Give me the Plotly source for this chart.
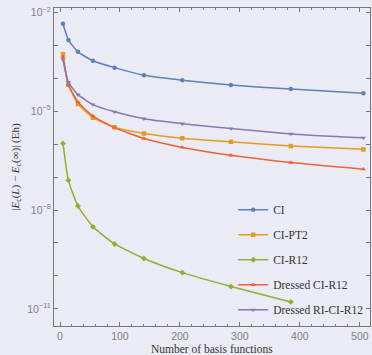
import plotly.graph_objects as go

# basis-set sizes
n_basis = [5, 14, 30, 55, 91, 140, 204, 285, 385, 506]
n_basis_r12 = [5, 14, 30, 55, 91, 140, 204, 285, 385]

# log10 of |Ec(L) - Ec(inf)| (Eh)
ci = [-2.35, -2.84, -3.20, -3.47, -3.68, -3.91, -4.06, -4.21, -4.33, -4.46]
ci_pt2 = [-3.27, -4.20, -4.78, -5.20, -5.49, -5.68, -5.82, -5.93, -6.06, -6.16]
ci_r12 = [-5.98, -7.10, -7.88, -8.51, -9.03, -9.47, -9.90, -10.32, -10.79]
dressed_ci_r12 = [-3.35, -4.20, -4.72, -5.15, -5.50, -5.83, -6.10, -6.34, -6.56, -6.76]
dressed_ri_ci_r12 = [-3.44, -4.12, -4.50, -4.80, -5.02, -5.23, -5.38, -5.53, -5.69, -5.81]

names = ["CI", "CI-PT2", "CI-R12", "Dressed CI-R12", "Dressed RI-CI-R12"]
colors = ["#5E81B5", "#E19C24", "#8FB032", "#EB6235", "#8778B3"]
symbols = ["circle", "square", "diamond", "triangle-up", "triangle-down"]
xs = [n_basis, n_basis, n_basis_r12, n_basis, n_basis]
ys = [ci, ci_pt2, ci_r12, dressed_ci_r12, dressed_ri_ci_r12]

y_tick_exp = [-2, -3, -4, -5, -6, -7, -8, -9, -10, -11]
y_tick_labelled = [-2, -5, -8, -11]
x_ticks = [0, 100, 200, 300, 400, 500]

serif = "Liberation Serif, DejaVu Serif, serif"

fig = go.Figure()
for name, c, s, x, y in zip(names, colors, symbols, xs, ys):
    fig.add_trace(go.Scatter(
        x=x, y=[10 ** v for v in y], name=name, mode="lines+markers",
        line=dict(color=c, width=1.5, shape="spline", smoothing=0.5),
        marker=dict(color=c, symbol=s, size=4.5),
        legendgroup=name,
    ))

axis_common = dict(showline=True, linecolor="#777777", linewidth=1, mirror="ticks",
                   ticks="inside", tickcolor="#777777", showgrid=False, zeroline=False,
                   tickfont=dict(family="Liberation Sans, Arial", size=10.5, color="#808080"))

fig.update_layout(
    width=372, height=355,
    paper_bgcolor="#EBEBF5", plot_bgcolor="#EBEBF5",
    margin=dict(l=54, r=2, t=8, b=29),
    showlegend=True,
    legend=dict(x=0.567, y=0.411, xanchor="left", yanchor="top",
                bgcolor="rgba(0,0,0,0)", tracegroupgap=6, itemwidth=30,
                font=dict(family=serif, size=11.5, color="#333333")),
    xaxis=dict(range=[-10, 517], tickvals=x_ticks, ticktext=[str(v) for v in x_ticks],
               ticklen=4, minor=dict(dtick=20, ticks="inside", ticklen=2, tickcolor="#777777"),
               **axis_common),
    yaxis=dict(type="log", range=[-11.52, -1.87],
               tickvals=[10 ** e for e in y_tick_exp],
               ticktext=[("10<sup>\u2212%d</sup>" % (-e)) if e in y_tick_labelled else "" for e in y_tick_exp],
               ticklen=4,
               title=dict(text="|<i>E</i><sub>c</sub>(<i>L</i>) \u2212 <i>E</i><sub>c</sub>(\u221e)| (Eh)",
                          standoff=5,
                          font=dict(family=serif, size=11, color="#333333")),
               **axis_common),
    annotations=[dict(text="Number of basis functions", xref="paper", yref="paper",
                      x=0.5, y=-0.071, xanchor="center", yanchor="middle", showarrow=False,
                      font=dict(family=serif, size=11.5, color="#333333"))],
)

fig.write_html(
    "out.html",
    config={"displayModeBar": False},
    post_script="document.body.style.margin='0';document.body.style.overflow='hidden';"
                "document.body.style.background='#EBEBF5';",
)
